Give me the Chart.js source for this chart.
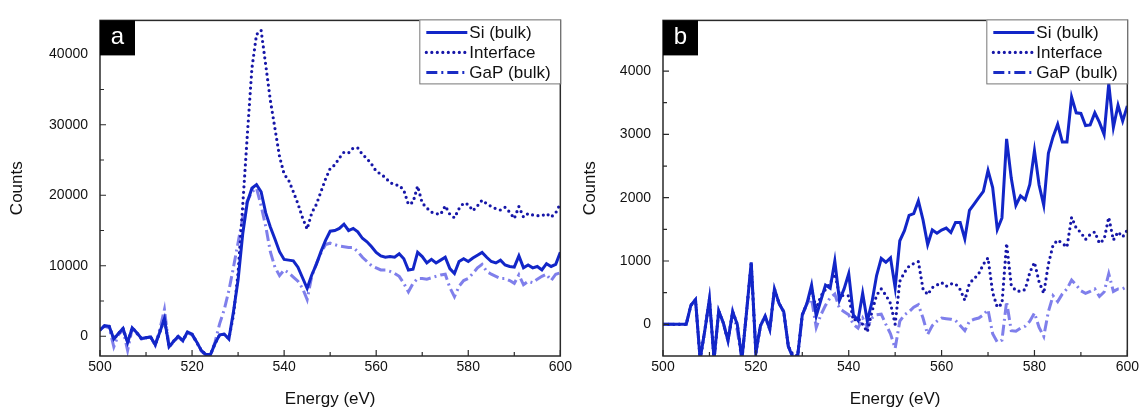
<!DOCTYPE html>
<html>
<head>
<meta charset="utf-8">
<script src="https://cdn.jsdelivr.net/npm/chart.js@4.4.1/dist/chart.umd.min.js"></script>
<style>
  body { margin: 0; background: #fff; }
  #wrap { position: relative; width: 1142px; height: 410px; }
  canvas { position: absolute; top: 0; }
  #chartA { left: 0; }
  #chartB { left: 575px; }
</style>
</head>
<body>
<div id="wrap">
  <canvas id="chartA" width="575" height="410"></canvas>
  <canvas id="chartB" width="567" height="410"></canvas>
</div>
<script>
// energy grid (eV), shared by both panels
var energy = [500,501,502,503,504,505,506,507,508,509,510,511,512,513,514,515,516,517,518,519,
  520,521,522,523,524,525,526,527,528,529,530,531,532,533,534,535,536,537,538,539,
  540,541,542,543,544,545,546,547,548,549,550,551,552,553,554,555,556,557,558,559,
  560,561,562,563,564,565,566,567,568,569,570,571,572,573,574,575,576,577,578,579,
  580,581,582,583,584,585,586,587,588,589,590,591,592,593,594,595,596,597,598,599,600];

var seriesNames = ["Si (bulk)", "Interface", "GaP (bulk)"];

// panel a
var siA = [900,1500,1400,-400,400,1100,-900,1200,500,-300,-200,-100,-1200,600,2500,-1500,-700,0,-600,600,
  300,-800,-2000,-2600,-2600,-1000,200,300,-400,3500,8000,14500,19000,21000,21500,20500,17500,15500,13800,12000,
  10900,10800,10700,9800,8300,6800,8700,10200,12000,13600,14900,15000,15300,15900,15000,15300,14800,13900,13400,12700,
  11900,11400,11200,11300,11200,11700,11000,9400,9500,11900,11300,10400,10900,10400,10800,11200,9600,8900,10600,11000,
  10600,11100,11500,11900,11200,10600,10400,10800,10100,9900,9800,11400,9700,10100,9700,9900,9400,10300,9900,10200,11900];
var interfaceA = [900,1500,1400,-400,400,1100,-900,1200,500,-300,-200,-100,-1200,600,2500,-1500,-700,0,-600,600,
  300,-800,-2000,-2600,-2600,-1000,200,300,-300,3000,9000,18500,28500,38000,42800,43400,38500,33500,29500,25500,
  23000,22100,20500,18800,16800,15200,17500,18700,20500,22300,23800,24300,25300,26100,26000,26700,26700,25800,25200,24400,
  23400,23000,22500,21800,21500,21400,20700,18700,19000,21300,18900,18200,17600,17400,17300,18500,17300,16800,18100,18900,
  18700,17800,18500,19300,18800,18400,18100,17900,18300,17600,16700,18400,16900,17400,17200,17100,17100,17400,16900,17500,18800];
var gapA = [900,1400,1200,-1500,200,900,-2000,1100,400,-400,-200,-100,-1300,1000,3800,-1500,-800,-100,-700,500,
  200,-900,-2100,-2700,-2700,-800,1800,3800,6500,9800,13300,16800,19200,20500,21000,18500,15600,12000,9800,8600,
  9400,9000,8400,7800,6800,5200,8500,10300,11800,13000,13200,13000,12800,12700,12600,12600,12000,11200,10600,10000,
  9700,9400,9400,9200,8900,8500,7500,6300,7500,8200,8200,8100,8300,8500,8700,8800,6900,5600,7100,7900,
  8200,8900,9700,10200,9200,8800,8500,8200,8200,7900,7500,8700,7300,7800,7600,8100,8500,8800,7900,8800,9000];

// panel b
var siB = [0,0,0,0,0,0,300,390,-550,-100,400,-550,210,20,-260,200,0,-550,200,980,
  -450,-20,130,-80,560,330,200,-350,-530,-500,150,330,620,130,380,620,570,1000,380,560,
  800,150,60,490,50,350,770,1040,980,1050,580,1320,1480,1720,1750,1950,1650,1260,1490,1440,
  1490,1520,1450,1610,1610,1350,1800,1900,2000,2100,2430,2160,1500,1680,2930,2310,1880,2030,1970,2210,
  2740,2200,1880,2700,2960,3160,2880,2880,3590,3340,3330,3140,3150,3340,3190,3000,3800,3110,3460,3210,3450];
var interfaceB = [0,0,0,0,0,0,300,390,-550,-100,400,-550,210,20,-260,200,0,-550,200,980,
  -450,-20,130,-80,560,330,200,-350,-480,-500,150,330,550,250,450,550,650,800,470,450,
  450,60,100,0,-120,200,460,560,460,330,0,680,820,920,960,990,560,470,580,620,
  660,600,640,640,550,380,650,720,800,950,1050,500,270,320,1280,620,530,520,550,820,
  980,670,490,950,1250,1330,1280,1220,1690,1520,1450,1340,1420,1460,1280,1340,1690,1330,1460,1380,1490];
var gapB = [0,0,0,0,0,0,300,390,-550,-100,400,-550,210,20,-260,200,-100,-550,200,950,
  -450,-20,130,-80,520,330,200,-350,-500,-500,150,330,400,-50,150,300,420,480,250,200,
  150,0,-60,100,-50,100,150,160,0,-150,-380,50,150,200,270,310,100,-160,-20,50,
  100,90,80,60,-20,-100,50,80,100,150,230,-150,-280,-250,360,-100,-110,-60,-30,50,
  180,-50,-190,200,450,360,480,560,700,620,530,490,520,560,440,510,800,520,560,560,600];

// axis ticks
var xTicks = [500, 520, 540, 560, 580, 600];
var yTicksA = [0, 10000, 20000, 30000, 40000];
var yTicksB = [0, 1000, 2000, 3000, 4000];

var siColor = "#1226c8";
var ifColor = "#1616a8";
var gapColor = "rgba(104,104,232,0.85)";
var gapLegendColor = "#1a2cc4";
var fontFam = "'Liberation Sans', Arial, sans-serif";

function pts(vals) {
  return energy.map(function (e, i) { return { x: e, y: vals[i] }; });
}

// frame, inward ticks, panel letter and legend box
var framePlugin = {
  id: "frame",
  afterDraw: function (chart, args, opts) {
    var ctx = chart.ctx, a = chart.chartArea;
    var xs = chart.scales.x, ys = chart.scales.y;
    ctx.save();
    ctx.strokeStyle = "#2a2a2a";
    ctx.lineWidth = 1.5;
    ctx.strokeRect(a.left, a.top, a.right - a.left, a.bottom - a.top);

    ctx.lineWidth = 1.2;
    ctx.beginPath();
    for (var i = 0; i < xTicks.length; i++) {
      var px = xs.getPixelForValue(xTicks[i]);
      ctx.moveTo(px, a.bottom); ctx.lineTo(px, a.bottom - 6);
      if (i < xTicks.length - 1) {
        var pm = xs.getPixelForValue((xTicks[i] + xTicks[i + 1]) / 2);
        ctx.moveTo(pm, a.bottom); ctx.lineTo(pm, a.bottom - 4);
      }
    }
    var yt = opts.yTicks, step = yt[1] - yt[0];
    for (var j = 0; j < yt.length; j++) {
      var py = ys.getPixelForValue(yt[j]);
      ctx.moveTo(a.left, py); ctx.lineTo(a.left + 6, py);
      var mv = yt[j] + step / 2;
      if (mv < ys.max) {
        var pm2 = ys.getPixelForValue(mv);
        ctx.moveTo(a.left, pm2); ctx.lineTo(a.left + 4, pm2);
      }
    }
    ctx.stroke();

    // panel letter
    ctx.fillStyle = "#000";
    ctx.fillRect(a.left, a.top, 35, 35);
    ctx.fillStyle = "#fff";
    ctx.font = "24px " + fontFam;
    ctx.textAlign = "center";
    ctx.textBaseline = "middle";
    ctx.fillText(opts.letter, a.left + 17.5, a.top + 17);

    // legend
    var bx = a.right - 141, by = a.top - 1, bw = 141, bh = 64;
    ctx.fillStyle = "#fff";
    ctx.fillRect(bx, by, bw, bh);
    ctx.strokeStyle = "#777";
    ctx.lineWidth = 1;
    ctx.strokeRect(bx + 0.5, by + 0.5, bw, bh);
    var rows = [13, 33, 53];
    chart.data.datasets.forEach(function (ds, k) {
      var ly = by + rows[k];
      ctx.beginPath();
      ctx.setLineDash(ds.borderDash || []);
      ctx.lineCap = ds.borderCapStyle || "butt";
      ctx.lineWidth = ds.borderWidth;
      ctx.strokeStyle = k === 2 ? gapLegendColor : ds.borderColor;
      ctx.moveTo(bx + 7, ly); ctx.lineTo(bx + 48, ly);
      ctx.stroke();
      ctx.setLineDash([]);
      ctx.fillStyle = "#111";
      ctx.font = "17px " + fontFam;
      ctx.textAlign = "left";
      ctx.textBaseline = "middle";
      ctx.fillText(ds.label, bx + 50, ly + 1);
    });
    ctx.restore();
  }
};

function makeChart(id, si, itf, gap, yMin, yMax, yTicks, letter, yWidth, padRight, titlePad) {
  return new Chart(document.getElementById(id), {
    type: "line",
    data: {
      datasets: [
        { label: seriesNames[0], data: pts(si), borderColor: siColor, borderWidth: 3, pointRadius: 0, tension: 0 },
        { label: seriesNames[1], data: pts(itf), borderColor: ifColor, borderWidth: 3.2, borderDash: [0, 5.5], borderCapStyle: "round", pointRadius: 0, tension: 0 },
        { label: seriesNames[2], data: pts(gap), borderColor: gapColor, borderWidth: 3, borderDash: [11, 4, 2, 4], pointRadius: 0, tension: 0 }
      ]
    },
    options: {
      responsive: false,
      animation: false,
      layout: { padding: { left: 0, right: padRight, top: 14, bottom: 0 } },
      plugins: {
        legend: { display: false },
        tooltip: { enabled: false },
        frame: { letter: letter, yTicks: yTicks }
      },
      scales: {
        x: {
          type: "linear", min: 500, max: 600,
          afterBuildTicks: function (s) { s.ticks = xTicks.map(function (v) { return { value: v }; }); },
          afterFit: function (s) { s.height = 54; },
          grid: { display: false, drawTicks: false },
          border: { display: false },
          ticks: { padding: 3, color: "#111", font: { size: 14, family: fontFam }, maxRotation: 0,
            callback: function (v) { return String(v); } },
          title: { display: true, text: "Energy (eV)", color: "#111", font: { size: 17, family: fontFam }, padding: { top: 2, bottom: 0 } }
        },
        y: {
          min: yMin, max: yMax,
          afterBuildTicks: function (s) { s.ticks = yTicks.map(function (v) { return { value: v }; }); },
          afterFit: function (s) { s.width = yWidth; },
          grid: { display: false, drawTicks: false },
          border: { display: false },
          ticks: { padding: 12, color: "#111", font: { size: 14, family: fontFam },
            callback: function (v) { return String(v); } },
          title: { display: true, text: "Counts", color: "#111", font: { size: 17, family: fontFam }, padding: { top: titlePad, bottom: 0 } }
        }
      }
    },
    plugins: [framePlugin]
  });
}

makeChart("chartA", siA, interfaceA, gapA, -2800, 44800, yTicksA, "a", 100, 8, 7);
makeChart("chartB", siB, interfaceB, gapB, -500, 4800, yTicksB, "b", 88, 11, 5);
</script>
</body>
</html>
